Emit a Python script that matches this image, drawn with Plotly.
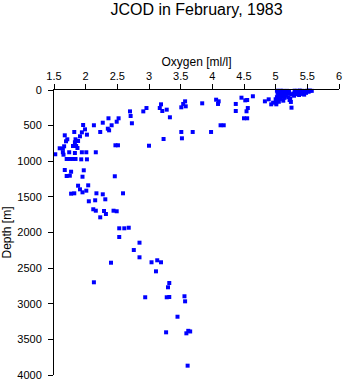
import plotly.graph_objects as go

# Oxygen [ml/l] and Depth [m]
oxygen = [
    2.70, 2.91, 2.96, 2.52, 2.71, 2.73, 2.36, 2.27, 2.49, 2.13, 1.96, 2.41, 2.35, 2.37,
    1.99, 2.23, 1.82, 1.94, 2.02, 1.67, 1.91, 1.84, 1.71, 1.88, 1.69, 1.83, 2.47, 2.51,
    3.00, 1.80, 1.85, 1.66, 1.87, 1.59, 1.64, 1.74, 1.64, 1.94, 2.01, 2.16, 1.83, 1.52,
    1.65, 1.70, 1.75, 1.80, 1.84, 1.93, 2.02,
    1.67, 1.77, 1.97, 1.70, 1.75, 1.95, 2.46, 1.88, 2.04, 1.91, 2.01, 1.95, 1.77, 1.82,
    2.17, 2.27, 2.59, 2.05, 2.15, 2.31, 2.12, 2.16, 2.29, 2.32, 2.44, 2.49, 2.23, 2.53,
    2.61, 2.68, 2.53, 2.85, 2.76, 2.85, 2.40, 3.04, 3.13, 3.19, 3.11, 3.32, 3.30, 2.13,
    2.94, 3.28, 3.32, 3.56, 3.57, 3.45, 3.27, 3.59, 3.65, 3.62, 3.61,
    3.57, 3.54, 3.58, 3.51, 3.19, 3.17, 3.21, 3.28, 3.33, 3.84, 4.06, 4.10, 4.09, 4.37,
    4.37, 4.46, 4.52, 4.55, 4.56, 4.54, 4.50, 4.55, 4.13, 4.18, 3.51, 3.69, 3.98, 3.23,
    3.52, 4.64, 4.83, 4.89, 4.96, 4.93, 5.01, 5.25, 5.24,
    5.02, 5.05, 5.08, 5.12, 5.15, 5.18, 5.21, 5.03, 5.06, 5.10, 5.14, 5.17, 5.20, 5.04,
    5.08, 5.12, 5.16, 5.02, 5.06, 5.10, 5.14, 5.00, 5.04, 5.08, 5.12, 5.01, 5.05, 5.20,
    5.23, 5.22, 5.25, 5.30, 5.34, 5.38, 5.42, 5.46, 5.50, 5.54, 5.32, 5.36, 5.40, 5.44,
    5.48, 5.52, 5.33, 5.37, 5.41, 5.45, 5.28, 5.29, 5.57,
]
depth = [
    300, 300, 253, 397, 365, 467, 397, 459, 445, 495, 491, 495, 543, 566,
    552, 589, 589, 594, 627, 636, 650, 692, 692, 716, 720, 734, 776, 776,
    782, 786, 786, 790, 814, 818, 824, 874, 874, 874, 874, 874, 884, 902,
    908, 968, 968, 968, 968, 973, 973,
    1123, 1147, 1127, 1207, 1203, 1217, 1211, 1343, 1338, 1394, 1413, 1436, 1455, 1450,
    1450, 1464, 1450, 1562, 1548, 1534, 1674, 1694, 1698, 1740, 1694, 1702, 1787, 1941,
    1941, 1933, 2063, 2143, 2246, 2348, 2424, 2418, 2390, 2418, 2545, 2709, 2769, 2699,
    2909, 2909, 2905, 2895, 2966, 3182, 3401, 3415, 3389, 3380, 3869,
    159, 196, 229, 243, 201, 253, 295, 276, 383, 187, 136, 159, 196, 196,
    295, 108, 145, 140, 253, 299, 397, 397, 495, 495, 589, 589, 589, 688,
    678, 88, 159, 131, 178, 201, 201, 248, 168,
    10, 15, 10, 12, 15, 12, 20, 40, 45, 35, 40, 50, 45, 70,
    75, 65, 80, 100, 105, 95, 110, 130, 140, 125, 150, 175, 165, 100,
    120, 140, 60, 10, 12, 8, 12, 15, 10, 8, 35, 40, 30, 35,
    40, 25, 60, 70, 55, 65, 50, 80, 12,
]

x_ticks = [1.5, 2, 2.5, 3, 3.5, 4, 4.5, 5, 5.5, 6]
x_ticktext = ["1.5", "2", "2.5", "3", "3.5", "4", "4.5", "5", "5.5", "6"]
y_ticks = [0, 500, 1000, 1500, 2000, 2500, 3000, 3500, 4000]

FONT = "Liberation Sans, Arial, sans-serif"

fig = go.Figure(
    go.Scatter(
        x=oxygen, y=depth, mode="markers",
        marker=dict(symbol="square", size=4, color="#0000FF", line=dict(width=0)),
        cliponaxis=False, hoverinfo="x+y",
    )
)

fig.update_layout(
    width=345, height=384,
    margin=dict(l=54, r=6, t=90, b=9, autoexpand=False),
    paper_bgcolor="white", plot_bgcolor="white",
    showlegend=False,
    font=dict(family=FONT, size=11, color="black"),
    title=dict(
        text="JCOD in February, 1983",
        x=0.5, xref="paper", y=1 - 9 / 384, yref="container", yanchor="middle",
        font=dict(family=FONT, size=16, color="black"),
    ),
)

fig.update_xaxes(
    side="top", range=[1.5, 6], tickvals=x_ticks, ticktext=x_ticktext,
    showline=True, linecolor="black", linewidth=1, mirror=False,
    ticks="outside", ticklen=5, tickcolor="black", tickwidth=1,
    showgrid=False, zeroline=False,
    tickfont=dict(size=11, family=FONT),
    title=dict(text="Oxygen [ml/l]", font=dict(size=12, family=FONT), standoff=0),
    automargin=False,
)
fig.update_yaxes(
    range=[4000, 0], tickvals=y_ticks,
    showline=True, linecolor="black", linewidth=1, mirror=False,
    ticks="outside", ticklen=5, tickcolor="black", tickwidth=1,
    ticklabelstandoff=4,
    showgrid=False, zeroline=False,
    tickfont=dict(size=11, family=FONT),
    title=dict(text="Depth [m]", font=dict(size=12, family=FONT), standoff=6),
    automargin=False,
)

fig.write_html("out.html")
